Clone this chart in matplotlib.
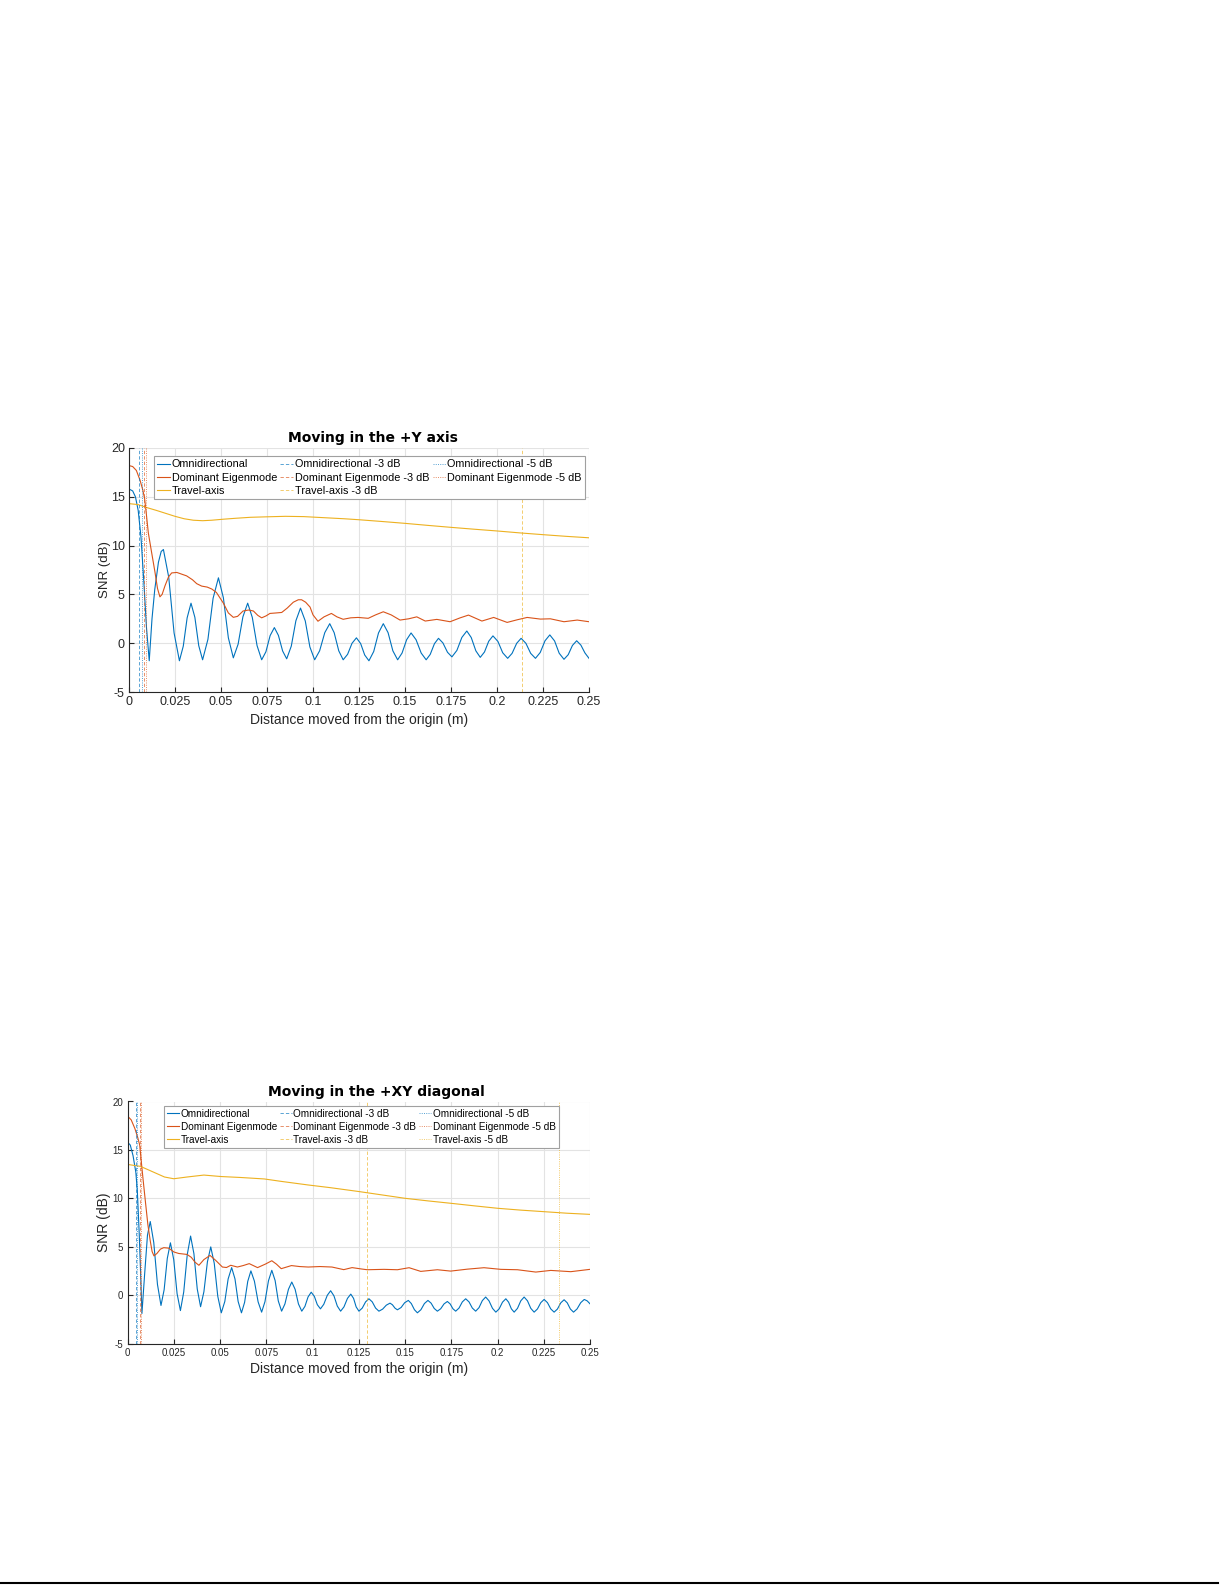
import matplotlib
matplotlib.use("Agg")
import matplotlib.pyplot as plt
from matplotlib.lines import Line2D

plt.rcParams['font.family'] = ['Liberation Sans', 'DejaVu Sans']

C_BLUE = '#0072BD'
C_RED = '#D95319'
C_YEL = '#EDB120'

# ---------------- data: top panel (+Y axis) ----------------
top_omni_x = [0, 0.002, 0.0035, 0.005, 0.0065, 0.008, 0.0095, 0.011, 0.0125, 0.014, 0.016, 0.0175,
              0.0187, 0.0216, 0.0245, 0.0274, 0.0295, 0.0316, 0.0337, 0.0358, 0.0379, 0.0400,
              0.0429, 0.0457, 0.0486, 0.0513, 0.0540, 0.0567, 0.0593, 0.0619, 0.0645, 0.0670,
              0.0696, 0.0721, 0.0744, 0.0767, 0.0790, 0.0812, 0.0835, 0.0857, 0.0882, 0.0907,
              0.0932, 0.0958, 0.0983, 0.1009, 0.1036, 0.1064, 0.1091, 0.1115, 0.1140, 0.1164,
              0.1188, 0.1212, 0.1236, 0.1259, 0.1281, 0.1304, 0.1330, 0.1356, 0.1382, 0.1408,
              0.1434, 0.1460, 0.1484, 0.1509, 0.1533, 0.1560, 0.1588, 0.1615, 0.1637, 0.1660,
              0.1682, 0.1706, 0.1731, 0.1755, 0.1782, 0.1809, 0.1836, 0.1860, 0.1885, 0.1909,
              0.1932, 0.1955, 0.1978, 0.2005, 0.2031, 0.2058, 0.2082, 0.2107, 0.2131, 0.2157,
              0.2183, 0.2209, 0.2235, 0.2261, 0.2287, 0.2313, 0.2338, 0.2364, 0.2387, 0.2410,
              0.2433, 0.2456, 0.2478, 0.2500]
top_omni_y = [15.8, 15.6, 15.0, 13.6, 10.9, 6.5, 1.6, -1.8, 2.5, 5.5, 8.3, 9.4,
              9.6, 6.75, 1.05, -1.8, -0.3, 2.6, 4.1, 2.65, -0.25, -1.7,
              0.4, 4.6, 6.7, 4.65, 0.55, -1.5, -0.1, 2.7, 4.1, 2.65,
              -0.25, -1.7, -0.88, 0.78, 1.6, 0.8, -0.8, -1.6, -0.3, 2.3,
              3.6, 2.28, -0.38, -1.7, -0.78, 1.08, 2.0, 1.08, -0.78, -1.7,
              -1.14, -0.01, 0.55, -0.04, -1.21, -1.8, -0.85, 1.05, 2.0, 1.08,
              -0.78, -1.7, -1.01, 0.36, 1.05, 0.36, -1.01, -1.7, -1.15, -0.05,
              0.5, 0.03, -0.93, -1.4, -0.74, 0.59, 1.25, 0.58, -0.78, -1.45,
              -0.9, 0.2, 0.75, 0.18, -0.98, -1.55, -1.04, -0.01, 0.5, -0.01,
              -1.04, -1.55, -0.95, 0.25, 0.85, 0.23, -1.03, -1.65, -1.18, -0.23,
              0.25, -0.2, -1.0, -1.55]

top_dom_x = [0, 0.002, 0.004, 0.006, 0.0075, 0.0085, 0.0095, 0.0105, 0.0122, 0.0141, 0.0155,
             0.0168, 0.018, 0.0196, 0.0215, 0.0232, 0.026, 0.029, 0.0313, 0.0345, 0.0368,
             0.0395, 0.0425, 0.045, 0.0475, 0.0513, 0.054, 0.0567, 0.059, 0.062, 0.065,
             0.0676, 0.070, 0.0721, 0.0745, 0.0766, 0.080, 0.083, 0.086, 0.0893, 0.092,
             0.0938, 0.096, 0.0984, 0.1000, 0.1027, 0.106, 0.110, 0.113, 0.1164, 0.1205,
             0.1245, 0.130, 0.134, 0.1382, 0.1425, 0.1473, 0.152, 0.1564, 0.1610, 0.1673,
             0.1745, 0.1800, 0.1845, 0.1918, 0.1982, 0.2055, 0.2110, 0.2164, 0.2236, 0.229,
             0.2364, 0.2436, 0.250]
top_dom_y = [18.2, 18.1, 17.7, 16.7, 15.7, 14.8, 13.1, 11.3, 9.4, 7.3, 5.6,
             4.75, 5.0, 5.9, 6.8, 7.2, 7.25, 7.05, 6.9, 6.5, 6.1,
             5.85, 5.75, 5.55, 5.2, 4.1, 3.1, 2.65, 2.75, 3.3, 3.4,
             3.3, 2.85, 2.6, 2.8, 3.05, 3.1, 3.15, 3.6, 4.2, 4.45,
             4.45, 4.2, 3.7, 2.9, 2.25, 2.7, 3.05, 2.7, 2.45, 2.6,
             2.64, 2.55, 2.9, 3.22, 2.9, 2.37, 2.5, 2.7, 2.27, 2.44,
             2.2, 2.6, 2.88, 2.27, 2.64, 2.13, 2.4, 2.64, 2.47, 2.5,
             2.2, 2.37, 2.2]

top_trav_x = [0, 0.005, 0.0096, 0.015, 0.02, 0.025, 0.03, 0.035, 0.04, 0.045, 0.051, 0.058,
              0.066, 0.075, 0.085, 0.095, 0.102, 0.109, 0.117, 0.125, 0.1375, 0.150, 0.1625,
              0.175, 0.1875, 0.2, 0.2125, 0.225, 0.2375, 0.25]
top_trav_y = [14.3, 14.2, 13.9, 13.6, 13.3, 13.0, 12.75, 12.6, 12.55, 12.6, 12.7, 12.8,
              12.9, 12.95, 13.0, 12.97, 12.9, 12.83, 12.75, 12.65, 12.47, 12.28, 12.07,
              11.87, 11.68, 11.5, 11.3, 11.12, 10.95, 10.8]

# threshold crossings (-3 dB, -5 dB) for top panel
top_omni_3db, top_omni_5db = 0.0056, 0.0068
top_dom_3db, top_dom_5db = 0.0083, 0.0094
top_trav_3db = 0.2136

# ---------------- data: bottom panel (+XY diagonal) ----------------
bot_omni_x = [0, 0.0015, 0.003, 0.0045, 0.0053, 0.0063, 0.0071, 0.0078, 0.0092, 0.0108,
              0.0123, 0.0142, 0.0162, 0.0181, 0.0198, 0.0215, 0.0232, 0.0250, 0.0268, 0.0286,
              0.0304, 0.0323, 0.0341, 0.0359, 0.0377, 0.0395, 0.0413, 0.0432, 0.0450, 0.0469,
              0.0488, 0.0507, 0.0526, 0.0544, 0.0563, 0.0581, 0.0598, 0.0616, 0.0633, 0.0650,
              0.0667, 0.0686, 0.0706, 0.0725, 0.0743, 0.0762, 0.0780, 0.0798, 0.0815, 0.0833,
              0.0851, 0.0870, 0.0888, 0.0906, 0.0924, 0.0942, 0.0959, 0.0976, 0.0993, 0.1010,
              0.1026, 0.1043, 0.1061, 0.1080, 0.1098, 0.1116, 0.1134, 0.1152, 0.1170, 0.1189,
              0.1207, 0.1222, 0.1236, 0.1251, 0.1269, 0.1287, 0.1305, 0.1323, 0.1341, 0.1359,
              0.1379, 0.1399, 0.1419, 0.1432, 0.1446, 0.1459, 0.1479, 0.1498, 0.1518, 0.1534,
              0.1551, 0.1567, 0.1586, 0.1605, 0.1624, 0.1641, 0.1658, 0.1675, 0.1693, 0.1711,
              0.1729, 0.1744, 0.1759, 0.1774, 0.1792, 0.1810, 0.1828, 0.1846, 0.1864, 0.1882,
              0.1900, 0.1918, 0.1936, 0.1954, 0.1973, 0.1991, 0.2009, 0.2027, 0.2045, 0.2060,
              0.2075, 0.2090, 0.2108, 0.2126, 0.2144, 0.2162, 0.2180, 0.2198, 0.2216, 0.2234,
              0.2252, 0.2270, 0.2288, 0.2306, 0.2324, 0.2342, 0.2360, 0.2377, 0.2394, 0.2411,
              0.2430, 0.2450, 0.2469, 0.2485, 0.2500]
bot_omni_y = [15.8, 15.5, 14.4, 12.7, 10.8, 6.5, 2.2, -1.9, 2.0, 6.2,
              7.6, 5.43, 1.1, -1.07, 0.55, 3.78, 5.4, 3.65, 0.15, -1.6,
              0.33, 4.18, 6.1, 4.28, 0.63, -1.2, 0.35, 3.44, 4.98, 3.28,
              -0.13, -1.83, -0.66, 1.67, 2.84, 1.67, -0.66, -1.83, -0.75, 1.42,
              2.5, 1.44, -0.7, -1.76, -0.68, 1.48, 2.56, 1.5, -0.6, -1.66,
              -0.91, 0.6, 1.35, 0.6, -0.91, -1.66, -1.17, -0.19, 0.3, -0.13,
              -0.99, -1.42, -0.95, -0.02, 0.45, -0.08, -1.13, -1.66, -1.22, -0.34,
              0.1, -0.34, -1.22, -1.66, -1.34, -0.7, -0.38, -0.7, -1.34, -1.66,
              -1.45, -1.04, -0.83, -1.0, -1.35, -1.52, -1.28, -0.79, -0.55, -0.87,
              -1.51, -1.83, -1.51, -0.87, -0.55, -0.83, -1.38, -1.66, -1.41, -0.91,
              -0.66, -0.91, -1.41, -1.66, -1.34, -0.7, -0.38, -0.7, -1.34, -1.66,
              -1.3, -0.57, -0.2, -0.59, -1.37, -1.76, -1.42, -0.73, -0.38, -0.73,
              -1.42, -1.76, -1.37, -0.59, -0.2, -0.59, -1.37, -1.76, -1.43, -0.78,
              -0.45, -0.78, -1.43, -1.76, -1.44, -0.8, -0.48, -0.8, -1.44, -1.76,
              -1.43, -0.78, -0.45, -0.6, -0.9]

bot_dom_x = [0, 0.002, 0.004, 0.0055, 0.0066, 0.0074, 0.0085, 0.0096, 0.011, 0.0123, 0.0133,
             0.0143, 0.0159, 0.0178, 0.0196, 0.0223, 0.025, 0.0277, 0.0322, 0.0345, 0.0365,
             0.0386, 0.0413, 0.0446, 0.0476, 0.0513, 0.0535, 0.0558, 0.0594, 0.0625, 0.0658,
             0.0703, 0.0745, 0.078, 0.0805, 0.0831, 0.0886, 0.093, 0.0977, 0.104, 0.1105,
             0.1169, 0.1214, 0.1264, 0.1296, 0.1386, 0.1459, 0.1522, 0.1585, 0.1675, 0.1747,
             0.1837, 0.1927, 0.2018, 0.2108, 0.2207, 0.2288, 0.2396, 0.25]
bot_dom_y = [18.5, 18.1, 17.2, 16.3, 15.5, 13.9, 11.8, 9.8, 7.3, 5.6, 4.5,
             4.05, 4.3, 4.75, 4.9, 4.85, 4.46, 4.3, 4.2, 3.9, 3.4,
             3.08, 3.67, 4.1, 3.6, 2.9, 2.85, 3.08, 2.9, 3.05, 3.25,
             2.84, 3.2, 3.55, 3.2, 2.73, 3.05, 2.95, 2.9, 2.95, 2.9,
             2.63, 2.84, 2.7, 2.62, 2.66, 2.62, 2.83, 2.45, 2.62, 2.48,
             2.68, 2.83, 2.66, 2.62, 2.38, 2.55, 2.42, 2.66]

bot_trav_x = [0, 0.007, 0.0141, 0.02, 0.025, 0.0322, 0.0413, 0.0504, 0.0612, 0.0739, 0.083,
              0.0975, 0.1096, 0.125, 0.1375, 0.15, 0.1625, 0.175, 0.1875, 0.2, 0.2125, 0.225,
              0.2375, 0.25]
bot_trav_y = [13.5, 13.3, 12.7, 12.2, 12.02, 12.2, 12.4, 12.25, 12.15, 12.0, 11.75,
              11.38, 11.1, 10.7, 10.35, 10.0, 9.73, 9.48, 9.22, 8.97, 8.78, 8.62,
              8.46, 8.34]

bot_omni_3db, bot_omni_5db = 0.0046, 0.0053
bot_dom_3db, bot_dom_5db = 0.0066, 0.0072
bot_trav_3db, bot_trav_5db = 0.1297, 0.2334

x_ticks = [0, 0.025, 0.05, 0.075, 0.1, 0.125, 0.15, 0.175, 0.2, 0.225, 0.25]
x_tick_labels = ['0', '0.025', '0.05', '0.075', '0.1', '0.125', '0.15', '0.175', '0.2', '0.225', '0.25']
y_ticks = [-5, 0, 5, 10, 15, 20]
y_tick_labels = ['-5', '0', '5', '10', '15', '20']

DASH3 = (0, (4.0, 2.5))
DASH5 = (0, (1.2, 1.5))

fig = plt.figure(figsize=(12.25, 15.85), dpi=100)


def panel(rect, title, title_x, curves, vlines, order, tick_fs, label_fs, leg_fs, leg_anchor,
          ylab_x, xlab_y):
    ax = fig.add_axes(rect)
    ax.set_xlim(0, 0.25)
    ax.set_ylim(-5, 20)
    ax.set_xticks(x_ticks)
    ax.set_xticklabels(x_tick_labels)
    ax.set_yticks(y_ticks)
    ax.set_yticklabels(y_tick_labels)
    ax.grid(True, color='#e3e3e3', linewidth=0.8)
    ax.set_axisbelow(True)
    for s in ['top', 'right']:
        ax.spines[s].set_visible(False)
    for s in ['left', 'bottom']:
        ax.spines[s].set_color('#262626')
        ax.spines[s].set_linewidth(0.8)
    ax.tick_params(direction='in', length=3.5, width=0.8, colors='#262626',
                   labelsize=tick_fs, pad=3)
    handles = []
    for (xs, ys, col, lab) in curves:
        h, = ax.plot(xs, ys, color=col, lw=0.8, label=lab, solid_joinstyle='round')
        handles.append(h)
    for (xv, col, ls, lab) in vlines:
        h = ax.axvline(xv, color=col, lw=0.6, linestyle=ls, label=lab, alpha=0.75)
        handles.append(h)
    hmap = {h.get_label(): h for h in handles}
    hs = [hmap[k] for k in order]
    leg = ax.legend(hs, order, ncol=3, loc='upper left', bbox_to_anchor=leg_anchor,
                    fontsize=leg_fs, frameon=True, fancybox=False, framealpha=1,
                    edgecolor='#a0a0a0', handlelength=1.2, handletextpad=0.15,
                    columnspacing=0.3, labelspacing=0.3, borderpad=0.3,
                    borderaxespad=0.0)
    leg.get_frame().set_linewidth(0.8)
    ax.set_title(title, fontsize=10, fontweight='bold', family='DejaVu Sans',
                 x=title_x, pad=4)
    ax.set_ylabel('SNR (dB)', fontsize=label_fs, color='#262626')
    ax.set_xlabel('Distance moved from the origin (m)', fontsize=10, color='#262626')
    ax.yaxis.set_label_coords(ylab_x, 0.5)
    ax.xaxis.set_label_coords(0.5, xlab_y)
    ax.xaxis.label.set_va('top')
    return ax


top_curves = [
    (top_omni_x, top_omni_y, C_BLUE, 'Omnidirectional'),
    (top_dom_x, top_dom_y, C_RED, 'Dominant Eigenmode'),
    (top_trav_x, top_trav_y, C_YEL, 'Travel-axis'),
]
top_vlines = [
    (top_omni_3db, C_BLUE, DASH3, 'Omnidirectional -3 dB'),
    (top_omni_5db, C_BLUE, DASH5, 'Omnidirectional -5 dB'),
    (top_dom_3db, C_RED, DASH3, 'Dominant Eigenmode -3 dB'),
    (top_dom_5db, C_RED, DASH5, 'Dominant Eigenmode -5 dB'),
    (top_trav_3db, C_YEL, DASH3, 'Travel-axis -3 dB'),
]
top_order = ['Omnidirectional', 'Dominant Eigenmode', 'Travel-axis',
             'Omnidirectional -3 dB', 'Dominant Eigenmode -3 dB', 'Travel-axis -3 dB',
             'Omnidirectional -5 dB', 'Dominant Eigenmode -5 dB']

panel([129 / 1225, 1 - 692 / 1585, 460 / 1225, 244 / 1585], 'Moving in the +Y axis', 0.53,
      top_curves, top_vlines, top_order, 9, 9.5, 7.8, (0.054, 0.967), -0.040, -0.085)

bot_curves = [
    (bot_omni_x, bot_omni_y, C_BLUE, 'Omnidirectional'),
    (bot_dom_x, bot_dom_y, C_RED, 'Dominant Eigenmode'),
    (bot_trav_x, bot_trav_y, C_YEL, 'Travel-axis'),
]
bot_vlines = [
    (bot_omni_3db, C_BLUE, DASH3, 'Omnidirectional -3 dB'),
    (bot_omni_5db, C_BLUE, DASH5, 'Omnidirectional -5 dB'),
    (bot_dom_3db, C_RED, DASH3, 'Dominant Eigenmode -3 dB'),
    (bot_dom_5db, C_RED, DASH5, 'Dominant Eigenmode -5 dB'),
    (bot_trav_3db, C_YEL, DASH3, 'Travel-axis -3 dB'),
    (bot_trav_5db, C_YEL, DASH5, 'Travel-axis -5 dB'),
]
bot_order = ['Omnidirectional', 'Dominant Eigenmode', 'Travel-axis',
             'Omnidirectional -3 dB', 'Dominant Eigenmode -3 dB', 'Travel-axis -3 dB',
             'Omnidirectional -5 dB', 'Dominant Eigenmode -5 dB', 'Travel-axis -5 dB']

panel([127.5 / 1225, 1 - 1343.5 / 1585, 462.5 / 1225, 242 / 1585], 'Moving in the +XY diagonal', 0.538,
      bot_curves, bot_vlines, bot_order, 7, 10, 7.2, (0.079, 0.983), -0.036, -0.078)

# page rule at the bottom
fig.add_artist(Line2D([0, 0.994], [0.0012, 0.0012], transform=fig.transFigure,
                      color='black', lw=1.5))

fig.savefig('out.png', dpi=100, facecolor='white')
